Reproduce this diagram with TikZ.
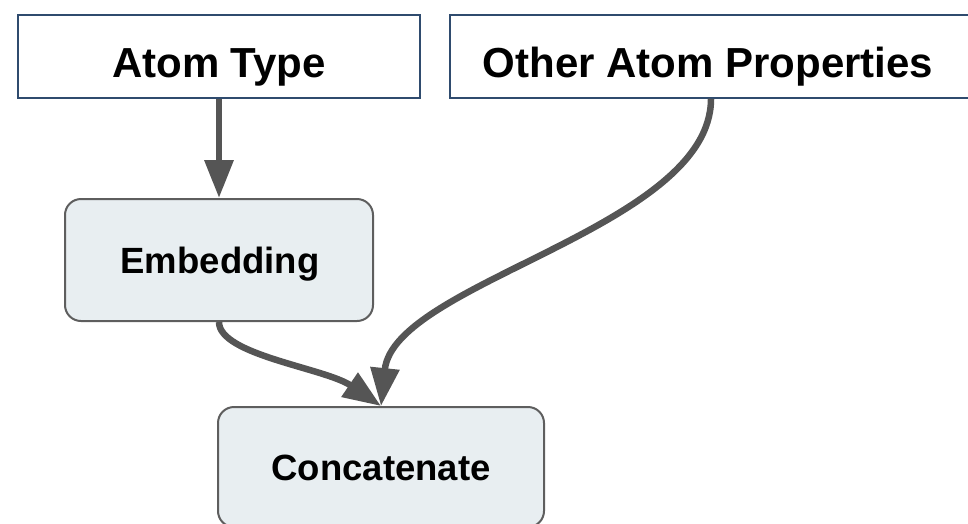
\documentclass[tikz,border=0pt]{standalone}
\usepackage{fontspec}
\setmainfont{Liberation Sans}
\usetikzlibrary{arrows.meta}
\definecolor{navyedge}{HTML}{2F4B6E}
\definecolor{boxfill}{HTML}{E8EEF1}
\definecolor{boxedge}{HTML}{5E5E5E}
\definecolor{flow}{HTML}{555555}
\tikzset{
  inputbox/.style={draw=navyedge, line width=1.5pt, fill=white, rectangle,
    inner sep=0pt, font=\fontsize{42}{48}\selectfont\bfseries},
  opbox/.style={draw=boxedge, line width=2pt, fill=boxfill, rectangle,
    rounded corners=16pt, inner sep=0pt, font=\fontsize{36.5}{42}\selectfont\bfseries},
  flowline/.style={draw=flow, line width=6.5pt,
    -{Triangle[length=38pt,width=28pt]}}
}
\begin{document}
\begin{tikzpicture}[x=1pt,y=-1pt]
  \useasboundingbox (0,0) rectangle (968,523);
  \clip (0,0) rectangle (968,523);

  % input boxes along the top
  \node[inputbox, minimum width=402pt, minimum height=83pt] (atom) at (219,56.5) {};
  \node[font=\fontsize{42}{48}\selectfont\bfseries, anchor=base] at (219,77) {Atom Type};
  \node[inputbox, minimum width=522pt, minimum height=83pt] (other) at (711,56.5) {};
  \node[font=\fontsize{42}{48}\selectfont\bfseries, anchor=base] at (708,77) {Other Atom Properties};

  % processing steps
  \node[opbox, minimum width=308pt, minimum height=122pt] (emb) at (219,260) {};
  \node[font=\fontsize{36.5}{42}\selectfont\bfseries, anchor=base] at (220,273) {Embedding};
  \node[opbox, minimum width=326pt, minimum height=120pt] (concat) at (381,467) {};
  \node[font=\fontsize{36.5}{42}\selectfont\bfseries, anchor=base] at (381,480) {Concatenate};

  % connectors
  \draw[flowline] (atom.south) -- (emb.north);
  \draw[flowline] (emb.south) .. controls (219,355) and (325,368) .. (concat.north);
  \draw[flowline] (other.south) .. controls (711,228) and (394,282) .. (concat.north);
\end{tikzpicture}
\end{document}
